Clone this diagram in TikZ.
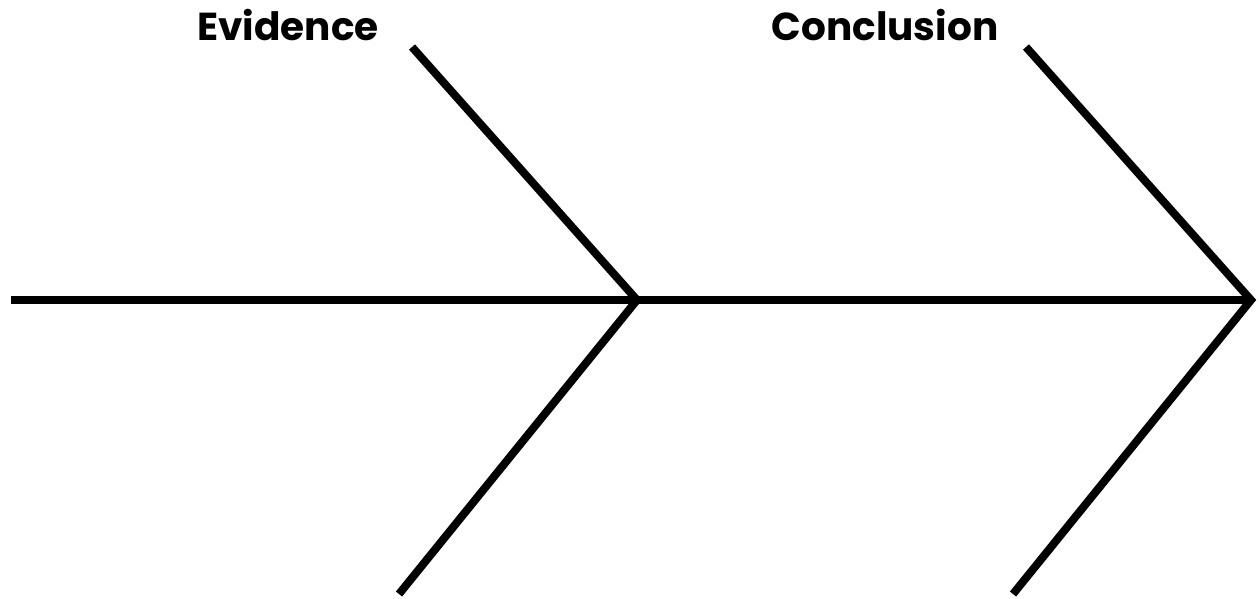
\documentclass[tikz,border=0pt]{standalone}
\usepackage{fontspec}
\setmainfont{Poppins}
\begin{document}
\begin{tikzpicture}[x=1pt,y=-1pt,
  bone/.style={line width=8pt,line join=miter,line cap=butt,black},
  lbl/.style={font=\fontsize{39}{46}\selectfont\bfseries,anchor=base,inner sep=0pt}]
\useasboundingbox (0,0) rectangle (1260,598);
\coordinate (h0) at (11,300);
\coordinate (j1) at (637,300);
\coordinate (j2) at (1251,300);
\coordinate (u1) at (412,47);
\coordinate (l1) at (399,594);
\coordinate (u2) at (1026,47);
\coordinate (l2) at (1013,594);
\draw[bone] (h0) -- (j2);
\draw[bone] (u1) -- (j1) -- (l1);
\draw[bone] (u2) -- (j2) -- (l2);
\node[lbl] (ev) at (288,40) {Evidence};
\node[lbl] (co) at (885,40) {Conclusion};
\end{tikzpicture}
\end{document}
